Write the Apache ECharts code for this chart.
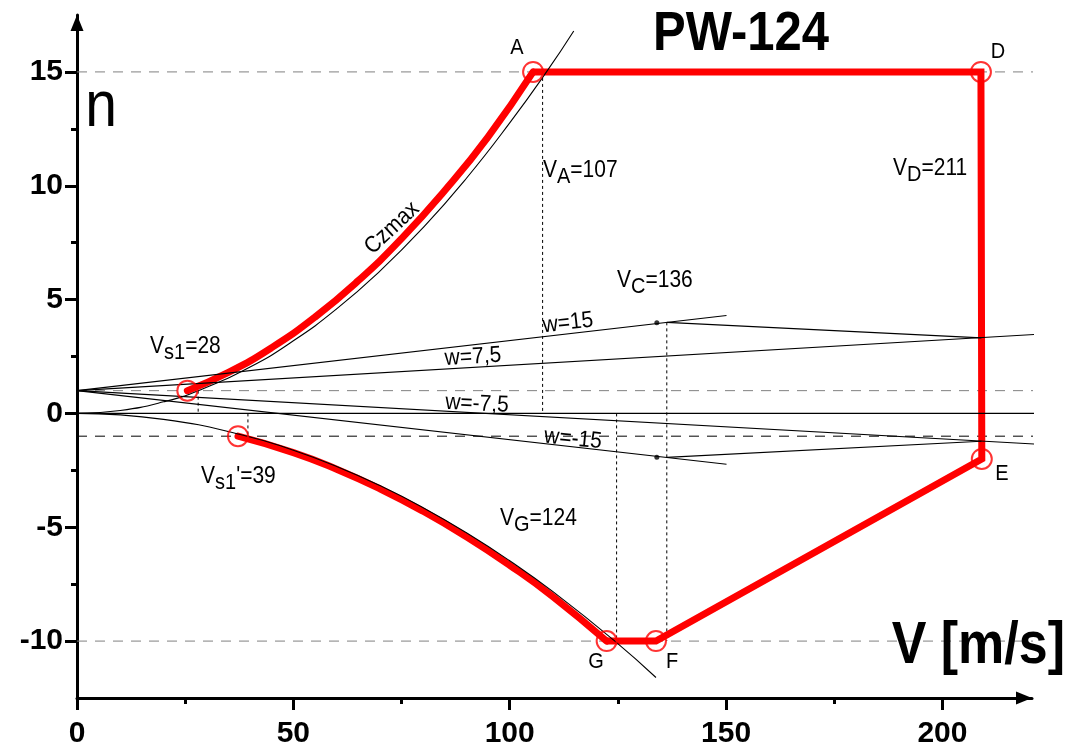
<!DOCTYPE html>
<html><head><meta charset="utf-8">
<script src="https://cdn.jsdelivr.net/npm/echarts@6/dist/echarts.min.js"></script>
<style>html,body{margin:0;padding:0;background:#fff}#c{width:1068px;height:751px}</style>
</head><body><div id="c"></div>
<script>
// ---------- data ----------
const xTicks = [0, 50, 100, 150, 200];
const xMinorTicks = [25, 75, 125, 175];
const yTicks = [-10, -5, 0, 5, 10, 15];
const yMinorTicks = [-7.5, -2.5, 2.5, 7.5, 12.5];

// Cz max curves (thin black)
const czmaxPos = [[0,0],[10,0.13],[20,0.51],[28,1],[40,2.04],[50,3.19],[60,4.59],[70,6.25],[80,8.16],[90,10.33],[100,12.76],[108.5,15],[114.8,16.8]];
const czmaxNeg = [[0,0],[20,-0.26],[39.3,-1],[50,-1.62],[60,-2.33],[70,-3.17],[80,-4.14],[90,-5.24],[100,-6.47],[110,-7.83],[124.3,-10],[133.8,-11.6]];

// flight envelope (thick red)
const envelopePos = [[25.5,1.0],[35,1.8],[45,2.89],[55,4.23],[65,5.83],[75,7.68],[85,9.79],[95,12.15],[105.4,15]];
const envelopeEdge = [[105.4,15],[208.9,15],[209.1,-2],[133.8,-10],[122.4,-10]];
const envelopeNeg = [[37.2,-1],[50,-1.72],[60,-2.45],[70,-3.31],[80,-4.3],[90,-5.42],[100,-6.67],[110,-8.05],[122.4,-10]];

// envelope corner points (circles)
const cornerPoints = [[25.5,1.0],[37.2,-1],[105.4,15],[208.9,15],[209.1,-2],[133.8,-10],[122.4,-10]];

// gust lines
const gust15 = [[0,1],[150.1,4.3]];
const gustM15 = [[0,1],[150.1,-2.23]];
const gust75 = [[0,1],[222.6,3.48]];
const gustM75 = [[0,1],[222.6,-1.36]];
const gustCD = [[136.3,4.0],[209,3.32]];
const gustCE = [[136.3,-1.93],[209,-1.22]];
const zeroLine = [[0,0],[222.6,0]];
const gustDots = [[134,3.98],[134,-1.93]];

// dashed load-factor limits [n, colour]
const limitLines = [[15,'#808080'],[1,'#808080'],[-1,'#000000'],[-10,'#808080']];
const limitSpan = [0, 222.6];

// vertical speed markers [V, nFrom, nTo]
const speedMarkers = [[28,1,0],[39.5,0,-1],[107.6,15,0],[124.7,0,-10],[136.3,4.0,-10]];

// ---------- chart ----------
const FONT = '"Liberation Sans", Arial, sans-serif';
const chart = echarts.init(document.getElementById('c'));

const series = [];
limitLines.forEach(([n, col]) => series.push({
  type:'line', data:[[limitSpan[0],n],[limitSpan[1],n]], symbol:'none', clip:false, silent:true, z:1,
  lineStyle:{color:col, width:1, type:[10,8]}
}));
speedMarkers.forEach(([v,a,b]) => series.push({
  type:'line', data:[[v,a],[v,b]], symbol:'none', clip:false, silent:true, z:1,
  lineStyle:{color:'#000', width:1, type:[3,3]}
}));
[gust15, gustM15, gust75, gustM75, gustCD, gustCE, zeroLine].forEach(d => series.push({
  type:'line', data:d, symbol:'none', clip:false, silent:true, z:3,
  lineStyle:{color:'#000', width:1.1}
}));
[czmaxPos, czmaxNeg].forEach(d => series.push({
  type:'line', data:d, symbol:'none', smooth:true, clip:false, silent:true, z:3,
  lineStyle:{color:'#000', width:1.1}
}));
series.push({type:'line', data:envelopePos, symbol:'none', smooth:true, clip:false, z:2,
  lineStyle:{color:'#ff0000', width:7, cap:'round'}});
series.push({type:'line', data:envelopeNeg, symbol:'none', smooth:true, clip:false, z:2,
  lineStyle:{color:'#ff0000', width:7, cap:'round'}});
series.push({type:'line', data:envelopeEdge, symbol:'none', clip:false, z:2,
  lineStyle:{color:'#ff0000', width:7, join:'miter'}});
series.push({type:'scatter', data:cornerPoints, symbol:'circle', symbolSize:20, z:4, clip:false,
  itemStyle:{color:'rgba(0,0,0,0)', borderColor:'#ff0000', borderWidth:2}});
series.push({type:'scatter', data:gustDots, symbol:'circle', symbolSize:5, z:4,
  itemStyle:{color:'#000'}});

// text annotations
const ctx = document.createElement('canvas').getContext('2d');
function txt(x, y, t, size, opts) {
  opts = opts || {};
  return {type:'text', x:x, y:y, rotation:opts.rot||0, scaleY:opts.sy||1.1, z:10,
    style:{text:t, fontSize:size, fontFamily:FONT, fontWeight:opts.bold?'bold':'normal', fill:'#000',
      align:opts.align||'left', verticalAlign:'middle'}};
}
function subLabel(x, cy, parts) {
  const out = []; let cx = x;
  parts.forEach(([t, sub]) => {
    const fs = sub ? 20 : 21;
    ctx.font = fs + 'px "Liberation Sans"';
    out.push(txt(cx, cy + (sub ? 6 : 0), t, fs));
    cx += ctx.measureText(t).width;
  });
  return out;
}
const graphics = [];
graphics.push(txt(741, 35, 'PW-124', 49, {bold:true, align:'center', sy:1.14}));
graphics.push(txt(101, 108, 'n', 57, {align:'center', sy:1.14}));
graphics.push(txt(1065, 647, 'V [m/s]', 52, {bold:true, align:'right', sy:1.14}));
[['A',517,48],['D',998,52],['E',1002,474],['F',672,662],['G',596,662]].forEach(([t,x,y]) =>
  graphics.push(txt(x, y, t, 20, {align:'center'})));
graphics.push(...subLabel(543, 171, [['V',0],['A',1],['=107',0]]));
graphics.push(...subLabel(893, 169, [['V',0],['D',1],['=211',0]]));
graphics.push(...subLabel(617, 281, [['V',0],['C',1],['=136',0]]));
graphics.push(...subLabel(150, 347, [['V',0],['s1',1],['=28',0]]));
graphics.push(...subLabel(201, 477, [['V',0],['s1',1],["'=39",0]]));
graphics.push(...subLabel(500, 519, [['V',0],['G',1],['=124',0]]));
graphics.push(txt(568, 323, 'w=15', 21, {align:'center', rot:0.11}));
graphics.push(txt(473, 357, 'w=7,5', 21, {align:'center', rot:0.06}));
graphics.push(txt(477, 404, 'w=-7,5', 21, {align:'center', rot:-0.05}));
graphics.push(txt(573, 439, 'w=-15', 21, {align:'center', rot:-0.1}));
graphics.push(txt(392, 228, 'Czmax', 21, {align:'center', rot:0.75}));

const axisBase = {
  type:'value', splitLine:{show:false}, axisPointer:{show:false}
};
const option = {
  animation:false,
  backgroundColor:'#fff',
  grid:{left:77, right:36, top:15, bottom:53, containLabel:false},
  xAxis:[
    Object.assign({}, axisBase, {min:0, max:220.7, position:'bottom',
      axisLine:{onZero:false, lineStyle:{color:'#000', width:3}, symbol:['none','triangle'], symbolSize:[13,16], symbolOffset:[0,-8]},
      axisTick:{customValues:xTicks, length:12, lineStyle:{color:'#000', width:3}},
      axisLabel:{customValues:xTicks, fontSize:30, fontWeight:'bold', fontFamily:FONT, color:'#000', margin:21}}),
    Object.assign({}, axisBase, {min:0, max:220.7, position:'bottom',
      axisLine:{show:false, onZero:false},
      axisTick:{customValues:xMinorTicks, length:6, lineStyle:{color:'#000', width:3}},
      axisLabel:{show:false}})
  ],
  yAxis:[
    Object.assign({}, axisBase, {min:-12.5, max:17.5, position:'left',
      axisLine:{onZero:false, lineStyle:{color:'#000', width:3}, symbol:['none','triangle'], symbolSize:[13,16], symbolOffset:[0,-8]},
      axisTick:{customValues:yTicks, length:12, lineStyle:{color:'#000', width:3}},
      axisLabel:{customValues:yTicks, fontSize:30, fontWeight:'bold', fontFamily:FONT, color:'#000', margin:14}}),
    Object.assign({}, axisBase, {min:-12.5, max:17.5, position:'left',
      axisLine:{show:false, onZero:false},
      axisTick:{customValues:yMinorTicks, length:6, lineStyle:{color:'#000', width:3}},
      axisLabel:{show:false}})
  ],
  series:series,
  graphic:graphics
};
chart.setOption(option);
</script></body></html>
